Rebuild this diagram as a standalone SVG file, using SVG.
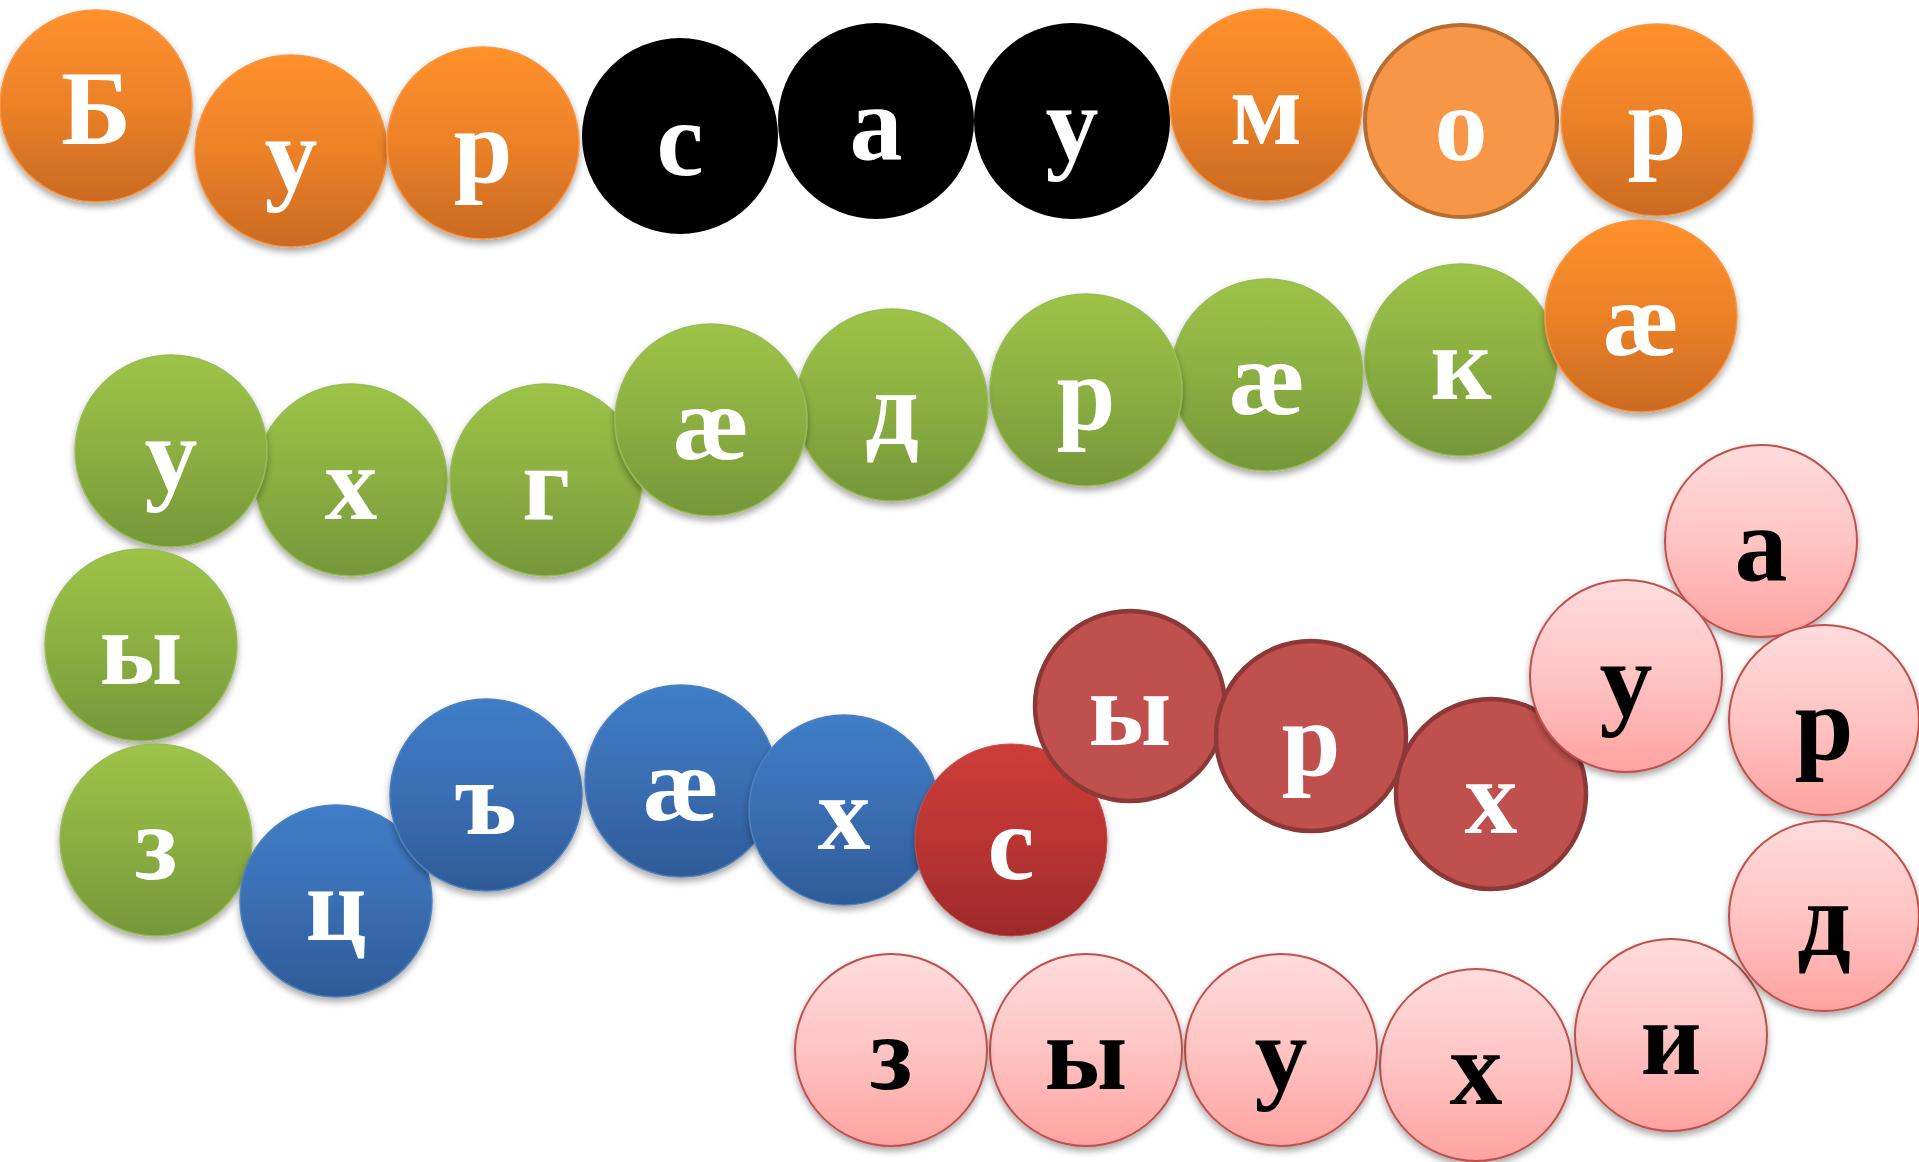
<svg xmlns="http://www.w3.org/2000/svg" width="1919" height="1162" viewBox="0 0 1919 1162">
<defs>
<linearGradient id="gOr" x1="0" y1="0" x2="0" y2="1"><stop offset="0" stop-color="#FF912B"/><stop offset="0.5" stop-color="#EC8128"/><stop offset="1" stop-color="#CA6A22"/></linearGradient>
<linearGradient id="gGr" x1="0" y1="0" x2="0" y2="1"><stop offset="0" stop-color="#9DC447"/><stop offset="0.5" stop-color="#8BAF42"/><stop offset="1" stop-color="#759739"/></linearGradient>
<linearGradient id="gBl" x1="0" y1="0" x2="0" y2="1"><stop offset="0" stop-color="#3F7DC8"/><stop offset="0.5" stop-color="#3A6EB3"/><stop offset="1" stop-color="#2E5B97"/></linearGradient>
<linearGradient id="gRd" x1="0" y1="0" x2="0" y2="1"><stop offset="0" stop-color="#CD3D38"/><stop offset="0.5" stop-color="#BA3433"/><stop offset="1" stop-color="#9D2A2A"/></linearGradient>
<linearGradient id="gPk" x1="0" y1="0" x2="0" y2="1"><stop offset="0" stop-color="#FFDCDC"/><stop offset="0.5" stop-color="#FFC4C3"/><stop offset="1" stop-color="#FFA3A1"/></linearGradient>
<filter id="sh" x="-20%" y="-20%" width="140%" height="150%"><feDropShadow dx="0" dy="4" stdDeviation="3.5" flood-color="#000" flood-opacity="0.35"/></filter>
</defs>
<style>
.t{font-family:"Liberation Serif","Times New Roman",serif;font-weight:bold;font-size:106px;text-anchor:middle;fill:#fff}
.k{fill:#000}
.or{fill:url(#gOr);stroke:#F79646;stroke-width:1.5;filter:url(#sh)}
.or2{fill:#F79646;stroke:#B66D31;stroke-width:4}
.bk{fill:#000}
.gr{fill:url(#gGr);stroke:#9BBB59;stroke-width:1.5;filter:url(#sh)}
.bl{fill:url(#gBl);stroke:#4F81BD;stroke-width:1.5;filter:url(#sh)}
.rd{fill:url(#gRd);stroke:#C0504D;stroke-width:1;filter:url(#sh)}
.rb{fill:#C0504D;stroke:#8C3836;stroke-width:4.5}
.pk{fill:url(#gPk);stroke:#C0504D;stroke-width:2;filter:url(#sh)}
</style>
<rect width="1919" height="1162" fill="#fff"/>
<g id="connectors"/>
<g id="n01"><circle class="or" cx="96" cy="106" r="96"/><text class="t" x="96" y="144">Б</text></g>
<g id="n02"><circle class="or" cx="291" cy="151" r="96"/><text class="t" x="291" y="190">у</text></g>
<g id="n03"><circle class="or" cx="483" cy="143" r="96"/><text class="t" x="483" y="182">р</text></g>
<g id="n04"><circle class="bk" cx="680" cy="136" r="98"/><text class="t" x="680" y="175">с</text></g>
<g id="n05"><circle class="bk" cx="876" cy="121" r="98"/><text class="t" x="876" y="159">а</text></g>
<g id="n06"><circle class="bk" cx="1072" cy="121" r="98"/><text class="t" x="1072" y="159">у</text></g>
<g id="n07"><circle class="or" cx="1266" cy="105" r="96"/><text class="t" x="1266" y="144">м</text></g>
<g id="n08"><circle class="or2" cx="1461" cy="121" r="96"/><text class="t" x="1461" y="160">о</text></g>
<g id="n09"><circle class="or" cx="1657" cy="120" r="96"/><text class="t" x="1657" y="159">р</text></g>
<g id="n11"><circle class="gr" cx="1461" cy="360" r="96"/><text class="t" x="1461" y="399">к</text></g>
<g id="n10"><circle class="or" cx="1641" cy="316" r="96"/><text class="t" x="1641" y="355">æ</text></g>
<g id="n12"><circle class="gr" cx="1267" cy="375" r="96"/><text class="t" x="1267" y="414">æ</text></g>
<g id="n13"><circle class="gr" cx="1086" cy="390" r="96"/><text class="t" x="1086" y="429">р</text></g>
<g id="n14"><circle class="gr" cx="892" cy="405" r="96"/><text class="t" x="892" y="444">д</text></g>
<g id="n17"><circle class="gr" cx="351" cy="480" r="96"/><text class="t" x="351" y="519">х</text></g>
<g id="n16"><circle class="gr" cx="546" cy="480" r="96"/><text class="t" x="546" y="519">г</text></g>
<g id="n15"><circle class="gr" cx="711" cy="420" r="96"/><text class="t" x="711" y="459">æ</text></g>
<g id="n18"><circle class="gr" cx="171" cy="451" r="96"/><text class="t" x="171" y="490">у</text></g>
<g id="n19"><circle class="gr" cx="141" cy="645" r="96"/><text class="t" x="141" y="684">ы</text></g>
<g id="n20"><circle class="gr" cx="156" cy="840" r="96"/><text class="t" x="156" y="879">з</text></g>
<g id="n21"><circle class="bl" cx="336" cy="901" r="96"/><text class="t" x="336" y="940">ц</text></g>
<g id="n22"><circle class="bl" cx="486" cy="795" r="96"/><text class="t" x="486" y="834">ъ</text></g>
<g id="n23"><circle class="bl" cx="681" cy="781" r="96"/><text class="t" x="681" y="820">æ</text></g>
<g id="n24"><circle class="bl" cx="844" cy="810" r="95"/><text class="t" x="844" y="849">х</text></g>
<g id="n25"><circle class="rd" cx="1011" cy="840" r="96"/><text class="t" x="1011" y="879">с</text></g>
<g id="n26"><circle class="rb" cx="1130" cy="706" r="95"/><text class="t" x="1130" y="745">ы</text></g>
<g id="n27"><circle class="rb" cx="1311" cy="736" r="95"/><text class="t" x="1311" y="775">р</text></g>
<g id="n28"><circle class="rb" cx="1491" cy="794" r="95"/><text class="t" x="1491" y="833">х</text></g>
<g id="n30"><circle class="pk" cx="1761" cy="541" r="96"/><text class="t k" x="1761" y="580">а</text></g>
<g id="n29"><circle class="pk" cx="1626" cy="676" r="96"/><text class="t k" x="1626" y="715">у</text></g>
<g id="n31"><circle class="pk" cx="1824" cy="720" r="95"/><text class="t k" x="1824" y="759">р</text></g>
<g id="n33"><circle class="pk" cx="1671" cy="1035" r="96"/><text class="t k" x="1671" y="1074">и</text></g>
<g id="n32"><circle class="pk" cx="1824" cy="916" r="95"/><text class="t k" x="1824" y="955">д</text></g>
<g id="n34"><circle class="pk" cx="1476" cy="1065" r="96"/><text class="t k" x="1476" y="1104">х</text></g>
<g id="n35"><circle class="pk" cx="1281" cy="1050" r="96"/><text class="t k" x="1281" y="1089">у</text></g>
<g id="n36"><circle class="pk" cx="1086" cy="1050" r="96"/><text class="t k" x="1086" y="1089">ы</text></g>
<g id="n37"><circle class="pk" cx="891" cy="1050" r="96"/><text class="t k" x="891" y="1089">з</text></g>
</svg>
